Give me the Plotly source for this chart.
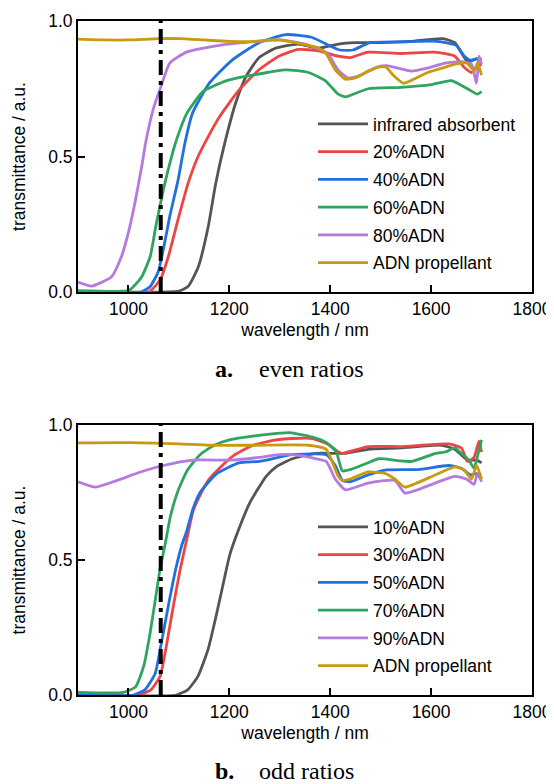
"""
Transmittance spectra of ADN propellant samples (even and odd ADN ratios).
"""

from __future__ import annotations

import plotly.graph_objects as go

LASER_NM = 1064

# ---- panel a: even ratios -------------------------------------------------
IR_NM = [900, 1080, 1100, 1118, 1138, 1158, 1173, 1191, 1213, 1233, 1259, 1292,
         1337, 1377, 1416, 1450, 1500, 1560, 1623, 1647, 1672, 1690, 1700]
IR_T = [0.0, 0.0, 0.003, 0.02, 0.09, 0.24, 0.40, 0.55, 0.70, 0.795, 0.865, 0.90,
        0.915, 0.90, 0.915, 0.92, 0.92, 0.925, 0.935, 0.92, 0.85, 0.86, 0.86]

ADN20_NM = [900, 1040, 1063, 1079, 1098, 1118, 1138, 1160, 1180, 1219, 1259, 1298,
            1337, 1377, 1416, 1440, 1475, 1540, 1607, 1647, 1665, 1680, 1690, 1700]
ADN20_T = [0.0, 0.0, 0.045, 0.13, 0.265, 0.40, 0.50, 0.58, 0.645, 0.745, 0.82, 0.87,
           0.895, 0.89, 0.87, 0.865, 0.885, 0.88, 0.885, 0.87, 0.83, 0.81, 0.83, 0.84]

ADN40_NM = [900, 1025, 1043, 1059, 1069, 1082, 1098, 1112, 1127, 1160, 1205, 1259,
            1312, 1363, 1403, 1419, 1445, 1479, 1544, 1611, 1650, 1666, 1678, 1690, 1700]
ADN40_T = [0.0, 0.0, 0.02, 0.075, 0.155, 0.28, 0.41, 0.55, 0.66, 0.77, 0.855, 0.92,
           0.95, 0.94, 0.905, 0.893, 0.893, 0.92, 0.923, 0.925, 0.91, 0.87, 0.855, 0.86, 0.85]

ADN60_NM = [900, 1000, 1010, 1026, 1043, 1055, 1069, 1082, 1095, 1116, 1148, 1195,
            1245, 1312, 1357, 1390, 1416, 1430, 1475, 1540, 1600, 1640, 1672, 1692, 1700]
ADN60_T = [0.005, 0.005, 0.02, 0.055, 0.13, 0.25, 0.375, 0.475, 0.56, 0.66, 0.74, 0.78,
           0.80, 0.82, 0.81, 0.78, 0.73, 0.72, 0.75, 0.755, 0.765, 0.78, 0.75, 0.73, 0.74]

ADN80_NM = [900, 927, 966, 986, 1000, 1014, 1026, 1035, 1050, 1063, 1082, 1116, 1160,
            1225, 1260, 1300, 1350, 1395, 1415, 1435, 1460, 1493, 1512, 1561, 1592,
            1628, 1660, 1680, 1690, 1695, 1700]
ADN80_T = [0.037, 0.022, 0.055, 0.13, 0.22, 0.34, 0.46, 0.56, 0.68, 0.75, 0.845, 0.886,
           0.904, 0.92, 0.925, 0.93, 0.915, 0.88, 0.82, 0.79, 0.80, 0.83, 0.835, 0.815,
           0.826, 0.845, 0.85, 0.84, 0.77, 0.87, 0.84]

PROP_A_NM = [900, 950, 1000, 1060, 1100, 1150, 1200, 1250, 1278, 1300, 1343, 1370,
             1390, 1410, 1430, 1450, 1475, 1496, 1510, 1525, 1545, 1560, 1593, 1620,
             1646, 1670, 1686, 1692, 1700]
PROP_A_T = [0.933, 0.93, 0.93, 0.935, 0.935, 0.93, 0.925, 0.925, 0.93, 0.93, 0.915, 0.905,
            0.885, 0.82, 0.785, 0.79, 0.815, 0.83, 0.83, 0.80, 0.77, 0.78, 0.81, 0.825,
            0.84, 0.845, 0.815, 0.845, 0.80]

# ---- panel b: odd ratios --------------------------------------------------
ADN10_NM = [900, 1095, 1118, 1138, 1158, 1171, 1183, 1201, 1220, 1240, 1259, 1273,
            1293, 1325, 1371, 1410, 1430, 1475, 1540, 1621, 1647, 1672, 1690, 1700]
ADN10_T = [0.0, 0.0, 0.02, 0.07, 0.17, 0.27, 0.37, 0.52, 0.62, 0.71, 0.77, 0.81,
           0.845, 0.875, 0.895, 0.895, 0.895, 0.91, 0.915, 0.925, 0.91, 0.87, 0.87, 0.86]

ADN30_NM = [900, 1020, 1045, 1063, 1075, 1089, 1102, 1116, 1128, 1142, 1160, 1175,
            1207, 1247, 1293, 1325, 1365, 1398, 1416, 1424, 1475, 1540, 1635, 1660,
            1672, 1685, 1695, 1700]
ADN30_T = [0.0, 0.0, 0.02, 0.07, 0.18, 0.33, 0.46, 0.58, 0.68, 0.74, 0.80, 0.83,
           0.885, 0.925, 0.945, 0.95, 0.95, 0.926, 0.90, 0.895, 0.92, 0.92, 0.93, 0.915,
           0.865, 0.88, 0.94, 0.90]

ADN50_NM = [900, 1010, 1033, 1053, 1065, 1079, 1093, 1105, 1116, 1128, 1142, 1175,
            1219, 1259, 1325, 1392, 1410, 1424, 1440, 1475, 1509, 1574, 1635, 1660,
            1678, 1690, 1700]
ADN50_T = [0.0, 0.0, 0.02, 0.08, 0.19, 0.33, 0.46, 0.55, 0.61, 0.69, 0.75, 0.82,
           0.86, 0.865, 0.89, 0.89, 0.85, 0.795, 0.79, 0.815, 0.833, 0.835, 0.85, 0.84,
           0.815, 0.82, 0.80]

ADN70_NM = [900, 990, 1014, 1030, 1043, 1053, 1063, 1073, 1083, 1097, 1116, 1142,
            1170, 1200, 1250, 1300, 1320, 1365, 1392, 1412, 1424, 1440, 1475, 1496,
            1561, 1609, 1628, 1647, 1660, 1675, 1685, 1694, 1700]
ADN70_T = [0.01, 0.01, 0.03, 0.105, 0.23, 0.35, 0.47, 0.56, 0.66, 0.75, 0.83, 0.89,
           0.925, 0.945, 0.96, 0.97, 0.972, 0.955, 0.935, 0.90, 0.83, 0.835, 0.86, 0.875,
           0.865, 0.895, 0.90, 0.915, 0.895, 0.87, 0.84, 0.90, 0.945]

ADN90_NM = [900, 935, 978, 1024, 1069, 1128, 1207, 1259, 1298, 1325, 1365, 1392,
            1410, 1430, 1475, 1528, 1548, 1608, 1647, 1670, 1685, 1692, 1700]
ADN90_T = [0.79, 0.77, 0.795, 0.826, 0.85, 0.87, 0.87, 0.88, 0.89, 0.89, 0.878, 0.865,
           0.80, 0.76, 0.785, 0.795, 0.748, 0.785, 0.81, 0.80, 0.78, 0.82, 0.79]

PROP_B_NM = [900, 1000, 1100, 1160, 1250, 1357, 1392, 1416, 1424, 1440, 1475, 1510,
             1528, 1548, 1608, 1647, 1665, 1680, 1690, 1700]
PROP_B_T = [0.934, 0.935, 0.93, 0.925, 0.925, 0.925, 0.91, 0.81, 0.795, 0.80, 0.826, 0.82,
            0.80, 0.77, 0.815, 0.845, 0.835, 0.80, 0.85, 0.80]

X_TICKS = [1000, 1200, 1400, 1600, 1800]
Y_TICKS = [0.0, 0.5, 1.0]

COLORS = ["#555555", "#ee4444", "#2070e0", "#2ea55e", "#b57ae0", "#c99a0f"]

PANEL_A = [
    ("infrared absorbent", IR_NM, IR_T),
    ("20%ADN", ADN20_NM, ADN20_T),
    ("40%ADN", ADN40_NM, ADN40_T),
    ("60%ADN", ADN60_NM, ADN60_T),
    ("80%ADN", ADN80_NM, ADN80_T),
    ("ADN propellant", PROP_A_NM, PROP_A_T),
]
PANEL_B = [
    ("10%ADN", ADN10_NM, ADN10_T),
    ("30%ADN", ADN30_NM, ADN30_T),
    ("50%ADN", ADN50_NM, ADN50_T),
    ("70%ADN", ADN70_NM, ADN70_T),
    ("90%ADN", ADN90_NM, ADN90_T),
    ("ADN propellant", PROP_B_NM, PROP_B_T),
]

SANS = "Liberation Sans, Arial, sans-serif"
SERIF = "Liberation Serif, Times New Roman, serif"

# the page body keeps its default 8px margin, so the figure is drawn 8px in
PAGE_MARGIN = 8
FIG_W = 554 - PAGE_MARGIN
FIG_H = 784 - PAGE_MARGIN


def px_x(px: float) -> float:
    """Window pixel column -> paper x."""
    return (px - PAGE_MARGIN) / FIG_W


def px_y(py: float) -> float:
    """Window pixel row -> paper y."""
    return 1 - (py - PAGE_MARGIN) / FIG_H


def add_panel(figure: go.Figure, series, axis_suffix: str, legend_name: str) -> None:
    """Add the spectra and the laser marker line to one panel."""
    for (name, wavelengths, values), color in zip(series, COLORS):
        figure.add_trace(
            go.Scatter(
                x=wavelengths,
                y=values,
                name=name,
                mode="lines",
                line=dict(color=color, width=2.8, shape="spline", smoothing=0.5),
                xaxis="x" + axis_suffix,
                yaxis="y" + axis_suffix,
                legend=legend_name,
                legendgroup=legend_name + name,
            )
        )
    figure.add_trace(
        go.Scatter(
            x=[LASER_NM, LASER_NM],
            y=[0.0, 1.0],
            mode="lines",
            line=dict(color="black", width=4, dash="15px,6px,4px,6px"),
            showlegend=False,
            xaxis="x" + axis_suffix,
            yaxis="y" + axis_suffix,
        )
    )


def axis_style(domain: list[float], anchor: str, title: str, is_x: bool) -> dict:
    style = dict(
        domain=domain,
        anchor=anchor,
        automargin=False,
        showline=True,
        linecolor="black",
        linewidth=2,
        mirror=True,
        ticks="inside",
        ticklen=7,
        tickwidth=2,
        tickcolor="black",
        showgrid=False,
        zeroline=False,
        tickfont=dict(family=SANS, size=17.5, color="black"),
        title=dict(text=title, font=dict(family=SANS, size=17.5, color="black")),
    )
    if is_x:
        style.update(range=[900, 1800], tickvals=X_TICKS, title_standoff=6)
    else:
        style.update(range=[0, 1.0], tickvals=Y_TICKS, tickformat=".1f", title_standoff=18)
    return style


def build_figure() -> go.Figure:
    figure = go.Figure()
    add_panel(figure, PANEL_A, "", "legend")
    add_panel(figure, PANEL_B, "2", "legend2")

    x_domain = [px_x(78), px_x(532)]
    top_domain = [px_y(292), px_y(21)]
    bottom_domain = [px_y(695), px_y(425)]

    legend_style = dict(
        xanchor="left",
        yanchor="top",
        bgcolor="rgba(0,0,0,0)",
        font=dict(family=SANS, size=17.5, color="black"),
        tracegroupgap=2,
        itemwidth=50,
    )

    caption_font = dict(family=SERIF, size=24, color="black")

    def caption(text: str, px: float, py: float) -> dict:
        return dict(text=text, x=px_x(px), y=px_y(py), xref="paper", yref="paper",
                    xanchor="center", yanchor="middle", showarrow=False, font=caption_font)

    figure.update_layout(
        width=FIG_W,
        height=FIG_H,
        margin=dict(l=0, r=0, t=0, b=0),
        paper_bgcolor="white",
        plot_bgcolor="white",
        xaxis=axis_style(x_domain, "y", "wavelength / nm", True),
        yaxis=axis_style(top_domain, "x", "transmittance / a.u.", False),
        xaxis2=axis_style(x_domain, "y2", "wavelength / nm", True),
        yaxis2=axis_style(bottom_domain, "x2", "transmittance / a.u.", False),
        legend=dict(x=px_x(313), y=px_y(106), **legend_style),
        legend2=dict(x=px_x(313), y=px_y(509), **legend_style),
        annotations=[
            caption("<b>a.</b>", 224, 369),
            caption("even ratios", 311, 369),
            caption("<b>b.</b>", 224, 771),
            caption("odd ratios", 306, 771),
        ],
        showlegend=True,
    )
    return figure


def main() -> None:
    figure = build_figure()
    figure.write_html("out.html")


if __name__ == "__main__":
    main()
